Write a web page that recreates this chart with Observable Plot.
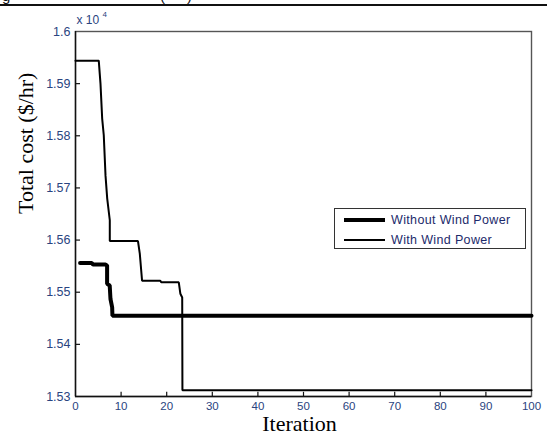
<!DOCTYPE html>
<html>
<head>
<meta charset="utf-8">
<script src="https://cdn.jsdelivr.net/npm/d3@7"></script>
<script src="https://cdn.jsdelivr.net/npm/@observablehq/plot@0.6"></script>
<style>
  html, body { margin: 0; padding: 0; background: #fff; }
  #wrap { position: relative; width: 547px; height: 444px; overflow: hidden; }
  #hdrline { position: absolute; left: 0; top: 4px; width: 547px; height: 1.6px; background: #111; }
  #hdrclip { position: absolute; left: 0; top: 0; width: 547px; height: 4px; overflow: hidden; }
  #hdrclip span { position: absolute; top: -13px; font: 15px "Liberation Sans", Arial, sans-serif; color: #111; }
  #legend { position: absolute; left: 334px; top: 208px; width: 192px; height: 41px;
            border: 1px solid #333; background: #fff; box-sizing: border-box;
            font: 12.5px "Liberation Sans", Arial, sans-serif; color: #1c2a6b; letter-spacing: 0.35px; }
  .row { position: absolute; left: 8px; display: flex; align-items: center; height: 16px; }
  .row svg { margin-right: 5px; }
</style>
</head>
<body>
<div id="wrap">
  <div id="chart"></div>
  <div id="hdrclip"><span style="left:2px">g</span><span style="left:160px">(</span><span style="left:187px">)</span></div>
  <div id="hdrline"></div>
  <div id="legend"></div>
</div>
<script>
// Series names
const seriesNames = ["Without Wind Power", "With Wind Power"];
const seriesWidths = [4, 2];

// Without Wind Power (values in units of 1e4 $/hr)
const withoutIter = [1, 3.6, 3.8, 6.6, 6.93, 6.93, 7.5, 7.67, 8.04, 8.1, 100];
const withoutCost = [1.5556, 1.5556, 1.5553, 1.5553, 1.5551, 1.5516, 1.5513, 1.5487, 1.5471, 1.5455, 1.5455];

// With Wind Power (values in units of 1e4 $/hr)
const withIter = [0, 5.1, 5.48, 5.85, 6.2, 6.58, 6.95, 7.52, 7.52, 13.7, 14.1, 14.6, 18.6, 18.8, 22.65, 23.0, 23.4, 23.45, 100];
const withCost = [1.5944, 1.5944, 1.5900, 1.5833, 1.5801, 1.5724, 1.5680, 1.5638, 1.5598, 1.5598, 1.5574, 1.5522, 1.5522, 1.5519, 1.5519, 1.5497, 1.5490, 1.5312, 1.5312];

// Axis ticks
const xTicks = [0, 10, 20, 30, 40, 50, 60, 70, 80, 90, 100];
const yTicks = [1.53, 1.54, 1.55, 1.56, 1.57, 1.58, 1.59, 1.60];
const yTickLabels = ["1.53", "1.54", "1.55", "1.56", "1.57", "1.58", "1.59", "1.6"];

const withoutData = withoutIter.map((x, i) => ({x, y: withoutCost[i]}));
const withData = withIter.map((x, i) => ({x, y: withCost[i]}));

const sans = "'Liberation Sans', Arial, sans-serif";
const serif = "'Liberation Serif', 'Times New Roman', serif";
const tickColor = "#2a4480";

const chart = Plot.plot({
  width: 547,
  height: 444,
  marginLeft: 75,
  marginRight: 16,
  marginTop: 31,
  marginBottom: 48,
  style: {fontFamily: sans, background: "transparent", overflow: "visible"},
  x: {domain: [0, 100], axis: null},
  y: {domain: [1.53, 1.60], axis: null},
  marks: [
    Plot.frame({stroke: "#555", strokeWidth: 1.4}),
    Plot.ruleX([0], {stroke: "#111", strokeWidth: 1.4}),
    Plot.ruleY([1.53], {stroke: "#111", strokeWidth: 1.4}),
    // inward ticks
    Plot.ruleY(yTicks.slice(1, -1), {y: d => d, x1: 0, x2: 1.1, stroke: "#111", strokeWidth: 1.2}),
    Plot.ruleX(xTicks.slice(1, -1), {x: d => d, y1: 1.53, y2: 1.5308, stroke: "#111", strokeWidth: 1.2}),
    Plot.axisX({ticks: xTicks, label: null, tickSize: 0, tickPadding: 5, fontSize: 11.5, fill: tickColor, tickFormat: d => String(d)}),
    Plot.axisY({ticks: yTicks, label: null, tickSize: 0, tickPadding: 5, fontSize: 12.5, fill: tickColor,
      tickFormat: d => yTickLabels[yTicks.findIndex(t => Math.abs(t - d) < 1e-9)], style: {letterSpacing: "0.5px"}}),
    Plot.line(withData, {x: "x", y: "y", stroke: "#000", strokeWidth: seriesWidths[1], strokeLinejoin: "miter"}),
    Plot.line(withoutData, {x: "x", y: "y", stroke: "#000", strokeWidth: seriesWidths[0], strokeLinejoin: "miter"}),
    Plot.text(["x 10"], {frameAnchor: "top-left", dx: 1, dy: -8, textAnchor: "start", lineAnchor: "bottom", fontSize: 12, fill: tickColor}),
    Plot.text(["4"], {frameAnchor: "top-left", dx: 27, dy: -15, textAnchor: "start", lineAnchor: "bottom", fontSize: 8, fill: tickColor}),
    Plot.text(["Total cost ($/hr)"], {frameAnchor: "left", dx: -50, rotate: -90, fontSize: 22, fontFamily: serif, fill: "#000"}),
    Plot.text(["Iteration"], {frameAnchor: "bottom", dx: -4, dy: 34, lineAnchor: "bottom", fontSize: 22, fontFamily: serif, fill: "#000"})
  ]
});
document.getElementById("chart").appendChild(chart);

// Legend
const legend = document.getElementById("legend");
seriesNames.forEach((name, i) => {
  const row = document.createElement("div");
  row.className = "row";
  row.style.top = (i === 0 ? 3 : 23) + "px";
  row.innerHTML = `<svg width="43" height="8"><line x1="1" y1="4" x2="42" y2="4" stroke="#000" stroke-width="${seriesWidths[i]}"/></svg><span>${name}</span>`;
  legend.appendChild(row);
});
</script>
</body>
</html>
